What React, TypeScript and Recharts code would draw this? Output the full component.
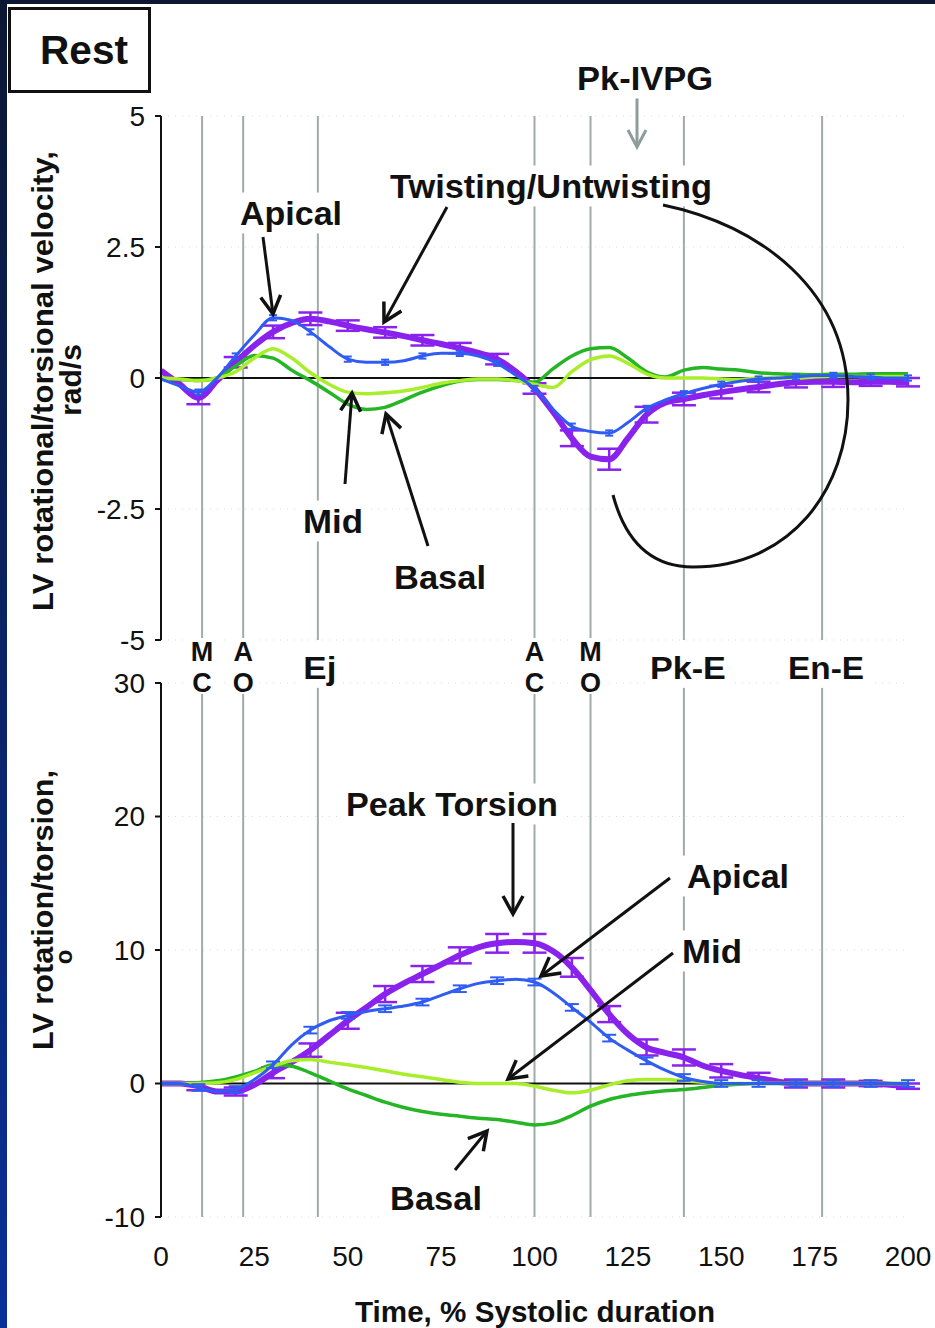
import React from "react";
import {
  CartesianGrid,
  ErrorBar,
  Line,
  LineChart,
  ReferenceLine,
  XAxis,
  YAxis
} from "recharts";

const FONT = '"Liberation Sans", Arial, Helvetica, sans-serif';

// time axis, % systolic duration
const times = [
  0, 5, 10, 15, 20, 25, 30, 35, 40, 45, 50, 55, 60, 65, 70, 75, 80, 85, 90, 95, 100,
  105, 110, 115, 120, 125, 130, 135, 140, 145, 150, 155, 160, 165, 170, 175, 180, 185, 190, 195, 200
];
const errTimes = [10, 20, 30, 40, 50, 60, 70, 80, 90, 100, 110, 120, 130, 140, 150, 160, 170, 180, 190, 200];

// top panel: rotational / torsional velocity, rad/s
const apicalVel = [
  -0.02, -0.15, -0.27, 0.0, 0.42, 0.82, 1.15, 1.1, 0.88, 0.6, 0.36, 0.3, 0.3, 0.33, 0.42, 0.47, 0.47, 0.42, 0.28, 0.05, -0.2,
  -0.6, -0.92, -1.02, -1.05, -0.85, -0.58, -0.42, -0.3, -0.2, -0.12, -0.06, -0.02, 0.0, 0.02, 0.05, 0.05, 0.03, 0.02, 0.0, 0.0
];
const twistVel = [
  0.14, -0.12, -0.38, -0.05, 0.3, 0.62, 0.88, 1.05, 1.13, 1.08, 1.0, 0.93, 0.87, 0.8, 0.72, 0.65, 0.57, 0.48, 0.36, 0.12, -0.2,
  -0.65, -1.15, -1.5, -1.55, -1.15, -0.7, -0.47, -0.4, -0.33, -0.27, -0.22, -0.17, -0.12, -0.08, -0.07, -0.07, -0.08, -0.07, -0.07, -0.08
];
const midVel = [
  0.0, -0.02, -0.05, 0.0, 0.12, 0.38, 0.56, 0.38, 0.1, -0.12, -0.27, -0.3, -0.28, -0.25, -0.18, -0.1, -0.05, -0.02, -0.02, -0.05, -0.12,
  -0.18, 0.12, 0.35, 0.42, 0.28, 0.08, 0.0, 0.0, 0.0, -0.02, -0.03, 0.0, 0.0, 0.0, 0.02, 0.03, 0.03, 0.03, 0.03, 0.03
];
const basalVel = [
  0.0, -0.03, -0.05, 0.0, 0.23, 0.43, 0.38, 0.15, -0.05, -0.27, -0.5, -0.6, -0.56, -0.42, -0.27, -0.15, -0.06, -0.03, -0.03, -0.05, -0.08,
  0.18, 0.42, 0.56, 0.58, 0.38, 0.12, 0.02, 0.15, 0.2, 0.17, 0.15, 0.1, 0.08, 0.07, 0.06, 0.07, 0.07, 0.08, 0.08, 0.08
];
const twistVelErr = [0.12, 0.1, 0.12, 0.12, 0.1, 0.1, 0.1, 0.1, 0.1, 0.1, 0.15, 0.2, 0.15, 0.12, 0.12, 0.1, 0.1, 0.1, 0.08, 0.08];
const apicalVelErr = [0.05, 0.05, 0.05, 0.05, 0.05, 0.05, 0.05, 0.05, 0.05, 0.05, 0.05, 0.05, 0.05, 0.05, 0.05, 0.05, 0.05, 0.05, 0.05, 0.05];

// bottom panel: rotation / torsion, degrees
const apicalRot = [
  0, 0, -0.3, -0.6, -0.45, 0.3, 1.4, 2.9, 4.0, 4.7, 5.1, 5.4, 5.6, 5.8, 6.1, 6.6, 7.1, 7.5, 7.7, 7.8, 7.6,
  6.8, 5.7, 4.6, 3.4, 2.5, 1.7, 1.0, 0.45, 0.15, 0, 0, 0, 0, 0, 0, 0, 0, 0, 0, 0
];
const twistRot = [
  0, 0, -0.2, -0.6, -0.6, -0.1, 0.8, 1.6, 2.5, 3.6, 4.7, 5.7, 6.7, 7.5, 8.2, 8.9, 9.6, 10.2, 10.5, 10.6, 10.5,
  9.9, 8.7, 7.0, 5.2, 3.7, 2.7, 2.3, 1.95, 1.35, 0.95, 0.65, 0.4, 0.15, 0, 0, 0, 0, 0, -0.1, -0.2
];
const midRot = [
  0, 0, 0, 0.05, 0.3, 0.8, 1.3, 1.7, 1.8, 1.6, 1.4, 1.2, 0.95, 0.7, 0.5, 0.3, 0.1, 0, 0, 0, -0.2,
  -0.5, -0.7, -0.5, -0.1, 0.2, 0.3, 0.3, 0.2, 0.1, 0, 0, 0, 0, 0, 0, 0, 0, 0, 0, 0
];
const basalRot = [
  0, 0, 0.05, 0.2, 0.5, 0.9, 1.4, 1.3, 0.8, 0.2, -0.4, -0.9, -1.4, -1.8, -2.1, -2.3, -2.45, -2.6, -2.7, -2.9, -3.1,
  -2.95, -2.4, -1.7, -1.2, -0.9, -0.7, -0.55, -0.45, -0.3, -0.15, -0.05, 0, 0, 0, 0, 0, 0, 0, 0, 0
];
const twistRotErr = [0.3, 0.3, 0.4, 0.5, 0.6, 0.6, 0.6, 0.6, 0.7, 0.7, 0.7, 0.6, 0.6, 0.6, 0.5, 0.4, 0.3, 0.3, 0.2, 0.2];
const apicalRotErr = [0.25, 0.25, 0.25, 0.25, 0.25, 0.25, 0.25, 0.25, 0.25, 0.25, 0.25, 0.25, 0.25, 0.25, 0.25, 0.25, 0.25, 0.25, 0.25, 0.25];

// axes
const velTicks = [-5, -2.5, 0, 2.5, 5];
const rotTicks = [-10, 0, 10, 20, 30];
const timeTicks = [0, 25, 50, 75, 100, 125, 150, 175, 200];

// cardiac events (vertical lines)
const eventTimes = [11, 22, 42, 100, 115, 140, 177];
const eventLabels = [["M", "C"], ["A", "O"], ["Ej"], ["A", "C"], ["M", "O"], ["Pk-E"], ["En-E"]];

const COLORS = {
  apical: "#2f5cf2",
  twist: "#8a22ee",
  mid: "#a8ee2a",
  basal: "#25b525",
  event: "#a2aaaa"
};

// layout
const PAGE_W = 935;
const PAGE_H = 1328;
const PLOT_LEFT = 161;
const PLOT_RIGHT = 908;
const Y_AXIS_W = 60;
const tx = (t: number) => PLOT_LEFT + (t / 200) * (PLOT_RIGHT - PLOT_LEFT);

const errAt = (t: number, arr: number[]) => {
  const k = errTimes.indexOf(t);
  return k >= 0 ? arr[k] : undefined;
};

const topRows = times.map((t, i) => ({
  t,
  apical: apicalVel[i],
  twist: twistVel[i],
  mid: midVel[i],
  basal: basalVel[i],
  twistErr: errAt(t, twistVelErr),
  apicalErr: errAt(t, apicalVelErr)
}));

const bottomRows = times.map((t, i) => ({
  t,
  apical: apicalRot[i],
  twist: twistRot[i],
  mid: midRot[i],
  basal: basalRot[i],
  twistErr: errAt(t, twistRotErr),
  apicalErr: errAt(t, apicalRotErr)
}));

const tickStyle = { fontSize: 28, fill: "#111", fontFamily: FONT };

const seriesLines = (topPanel: boolean) => [
  <Line key="twist" type="monotone" dataKey="twist" stroke={COLORS.twist} strokeWidth={6} dot={false} isAnimationActive={false}>
    <ErrorBar dataKey="twistErr" direction="y" width={12} strokeWidth={2.5} stroke={COLORS.twist} />
  </Line>,
  <Line key="basal" type="monotone" dataKey="basal" stroke={COLORS.basal} strokeWidth={3.5} dot={false} isAnimationActive={false} />,
  <Line key="mid" type="monotone" dataKey="mid" stroke={COLORS.mid} strokeWidth={3.5} dot={false} isAnimationActive={false} />,
  <Line key="apical" type="monotone" dataKey="apical" stroke={COLORS.apical} strokeWidth={3} dot={false} isAnimationActive={false}>
    <ErrorBar dataKey="apicalErr" direction="y" width={topPanel ? 4 : 7} strokeWidth={2} stroke={COLORS.apical} />
  </Line>
];

const eventRefs = () =>
  eventTimes.map((t) => (
    <ReferenceLine key={`ev${t}`} x={t} stroke={COLORS.event} strokeWidth={2} ifOverflow="extendDomain" />
  ));

const TopChart = () => (
  <LineChart
    width={PAGE_W}
    height={660}
    data={topRows}
    margin={{ top: 116, right: PAGE_W - PLOT_RIGHT, bottom: 20, left: PLOT_LEFT - Y_AXIS_W }}
  >
    <CartesianGrid vertical={false} stroke="#dcdcdc" strokeDasharray="1 6" />
    <XAxis dataKey="t" type="number" domain={[0, 200]} hide />
    <YAxis
      width={Y_AXIS_W}
      type="number"
      domain={[-5, 5]}
      ticks={velTicks}
      interval={0}
      axisLine={{ stroke: "#111", strokeWidth: 2 }}
      tickLine={{ stroke: "#111", strokeWidth: 2 }}
      tickSize={6}
      tickMargin={10}
      tick={tickStyle}
    />
    {eventRefs()}
    <ReferenceLine y={0} stroke="#111" strokeWidth={2} />
    {seriesLines(true)}
  </LineChart>
);

const BottomChart = () => (
  <LineChart
    width={PAGE_W}
    height={668}
    data={bottomRows}
    margin={{ top: 23, right: PAGE_W - PLOT_RIGHT, bottom: 51, left: PLOT_LEFT - Y_AXIS_W }}
  >
    <CartesianGrid vertical={false} stroke="#dcdcdc" strokeDasharray="1 6" />
    <XAxis
      dataKey="t"
      type="number"
      domain={[0, 200]}
      ticks={timeTicks}
      interval={0}
      height={60}
      axisLine={false}
      tickLine={false}
      tickSize={0}
      tickMargin={29}
      tick={tickStyle}
    />
    <YAxis
      width={Y_AXIS_W}
      type="number"
      domain={[-10, 30]}
      ticks={rotTicks}
      interval={0}
      axisLine={{ stroke: "#111", strokeWidth: 2 }}
      tickLine={{ stroke: "#111", strokeWidth: 2 }}
      tickSize={6}
      tickMargin={10}
      tick={tickStyle}
    />
    {eventRefs()}
    <ReferenceLine y={0} stroke="#111" strokeWidth={2} />
    {seriesLines(false)}
  </LineChart>
);

type LabelProps = { x: number; y: number; text: string; w?: number; size?: number };

const Label = ({ x, y, text, w, size = 33 }: LabelProps) => (
  <g>
    {w ? <rect x={x - w / 2 - 5} y={y - size * 0.62} width={w + 10} height={size * 1.24} fill="#fff" /> : null}
    <text
      x={x}
      y={y}
      textAnchor="middle"
      dominantBaseline="central"
      fontSize={size}
      fontWeight="bold"
      fontFamily={FONT}
      fill="#111"
      textLength={w}
      lengthAdjust={w ? "spacingAndGlyphs" : undefined}
    >
      {text}
    </text>
  </g>
);

// stacked two-letter event label (e.g. M over C)
const StackLabel = ({ x, top, bottom }: { x: number; top: string; bottom: string }) => (
  <g>
    <rect x={x - 16} y={638} width={32} height={56} fill="#fff" />
    <text
      x={x}
      y={661}
      textAnchor="middle"
      fontSize={27}
      fontWeight="bold"
      fontFamily={FONT}
      fill="#111"
    >
      <tspan x={x}>{top}</tspan>
      <tspan x={x} dy={31}>{bottom}</tspan>
    </text>
  </g>
);

// annotation arrows (page pixels)
const arrows = [
  [263, 237, 273, 314],
  [447, 207, 384, 322],
  [345, 484, 352, 393],
  [428, 546, 386, 414],
  [513, 823, 513, 914],
  [670, 878, 541, 976],
  [673, 953, 508, 1079],
  [455, 1170, 487, 1131]
];

const Overlay = () => (
  <svg
    width={PAGE_W}
    height={PAGE_H}
    style={{ position: "absolute", left: 0, top: 0, pointerEvents: "none" }}
  >
    <defs>
      <marker id="ah" markerUnits="userSpaceOnUse" markerWidth="26" markerHeight="26" refX="21" refY="12" orient="auto">
        <path d="M3,2 L21,12 L3,22" fill="none" stroke="#111" strokeWidth="3.5" />
      </marker>
      <marker id="ahGray" markerUnits="userSpaceOnUse" markerWidth="26" markerHeight="26" refX="21" refY="12" orient="auto">
        <path d="M4,3 L21,12 L4,21" fill="none" stroke="#8e9c9c" strokeWidth="3" />
      </marker>
    </defs>

    {/* Rest box */}
    <rect x={9.5} y={8.5} width={140} height={83} fill="#fff" stroke="#111" strokeWidth={3} />
    <Label x={84} y={50} text="Rest" size={40} w={88} />

    {/* event labels between panels */}
    {eventTimes.map((t, i) => {
      const parts = eventLabels[i];
      if (parts.length === 2) {
        return <StackLabel key={`el${t}`} x={tx(t)} top={parts[0]} bottom={parts[1]} />;
      }
      const w = parts[0] === "Ej" ? 33 : 76;
      return <Label key={`el${t}`} x={tx(t) + (parts[0] === "Ej" ? 2 : 4)} y={668} text={parts[0]} size={32} w={w} />;
    })}

    {/* top panel annotations */}
    <line x1={637} y1={92} x2={637} y2={147} stroke="#8e9c9c" strokeWidth={3} markerEnd="url(#ahGray)" />
    <Label x={645} y={78} text="Pk-IVPG" w={136} />
    <Label x={551} y={186} text="Twisting/Untwisting" w={322} />
    <Label x={291} y={213} text="Apical" w={102} />
    <Label x={333} y={521} text="Mid" w={60} />
    <Label x={440} y={577} text="Basal" w={92} />
    <path
      d="M663,205 C760,225 848,290 848,400 C848,490 790,567 693,567 C650,567 625,540 613,495"
      fill="none"
      stroke="#111"
      strokeWidth={3}
    />

    {/* bottom panel annotations */}
    <Label x={452} y={804} text="Peak Torsion" w={212} />
    <Label x={738} y={876} text="Apical" w={102} />
    <Label x={712} y={951} text="Mid" w={60} />
    <Label x={436} y={1198} text="Basal" w={92} />

    {arrows.map(([x1, y1, x2, y2], i) => (
      <line key={`ar${i}`} x1={x1} y1={y1} x2={x2} y2={y2} stroke="#111" strokeWidth={3} markerEnd="url(#ah)" />
    ))}

    {/* axis titles */}
    <text
      x={42}
      y={381}
      transform="rotate(-90 42 381)"
      textAnchor="middle"
      dominantBaseline="central"
      fontSize={30}
      fontWeight="bold"
      fontFamily={FONT}
      fill="#111"
      textLength={460}
      lengthAdjust="spacingAndGlyphs"
    >
      LV rotational/torsional velocity,
    </text>
    <text
      x={70}
      y={380}
      transform="rotate(-90 70 380)"
      textAnchor="middle"
      dominantBaseline="central"
      fontSize={30}
      fontWeight="bold"
      fontFamily={FONT}
      fill="#111"
    >
      rad/s
    </text>
    <text
      x={42}
      y={910}
      transform="rotate(-90 42 910)"
      textAnchor="middle"
      dominantBaseline="central"
      fontSize={30}
      fontWeight="bold"
      fontFamily={FONT}
      fill="#111"
      textLength={280}
      lengthAdjust="spacingAndGlyphs"
    >
      LV rotation/torsion,
    </text>
    <text
      x={63}
      y={957}
      transform="rotate(-90 63 957)"
      textAnchor="middle"
      dominantBaseline="central"
      fontSize={24}
      fontWeight="bold"
      fontFamily={FONT}
      fill="#111"
    >
      o
    </text>
    <Label x={535} y={1311} text="Time, % Systolic duration" size={30} w={360} />
  </svg>
);

export default function App() {
  return (
    <div
      style={{
        position: "absolute",
        left: 0,
        top: 0,
        width: PAGE_W,
        height: PAGE_H,
        background: "#fff",
        overflow: "hidden",
        fontFamily: FONT
      }}
    >
      <div style={{ position: "absolute", left: 0, top: 0 }}>
        <TopChart />
      </div>
      <div style={{ position: "absolute", left: 0, top: 660 }}>
        <BottomChart />
      </div>
      <Overlay />
      <div style={{ position: "absolute", left: 0, top: 0, width: PAGE_W, height: 4, background: "#0b1733" }} />
      <div
        style={{
          position: "absolute",
          left: 0,
          top: 0,
          width: 7,
          height: PAGE_H,
          background: "linear-gradient(#0b1733, #0a2f9a)"
        }}
      />
    </div>
  );
}
